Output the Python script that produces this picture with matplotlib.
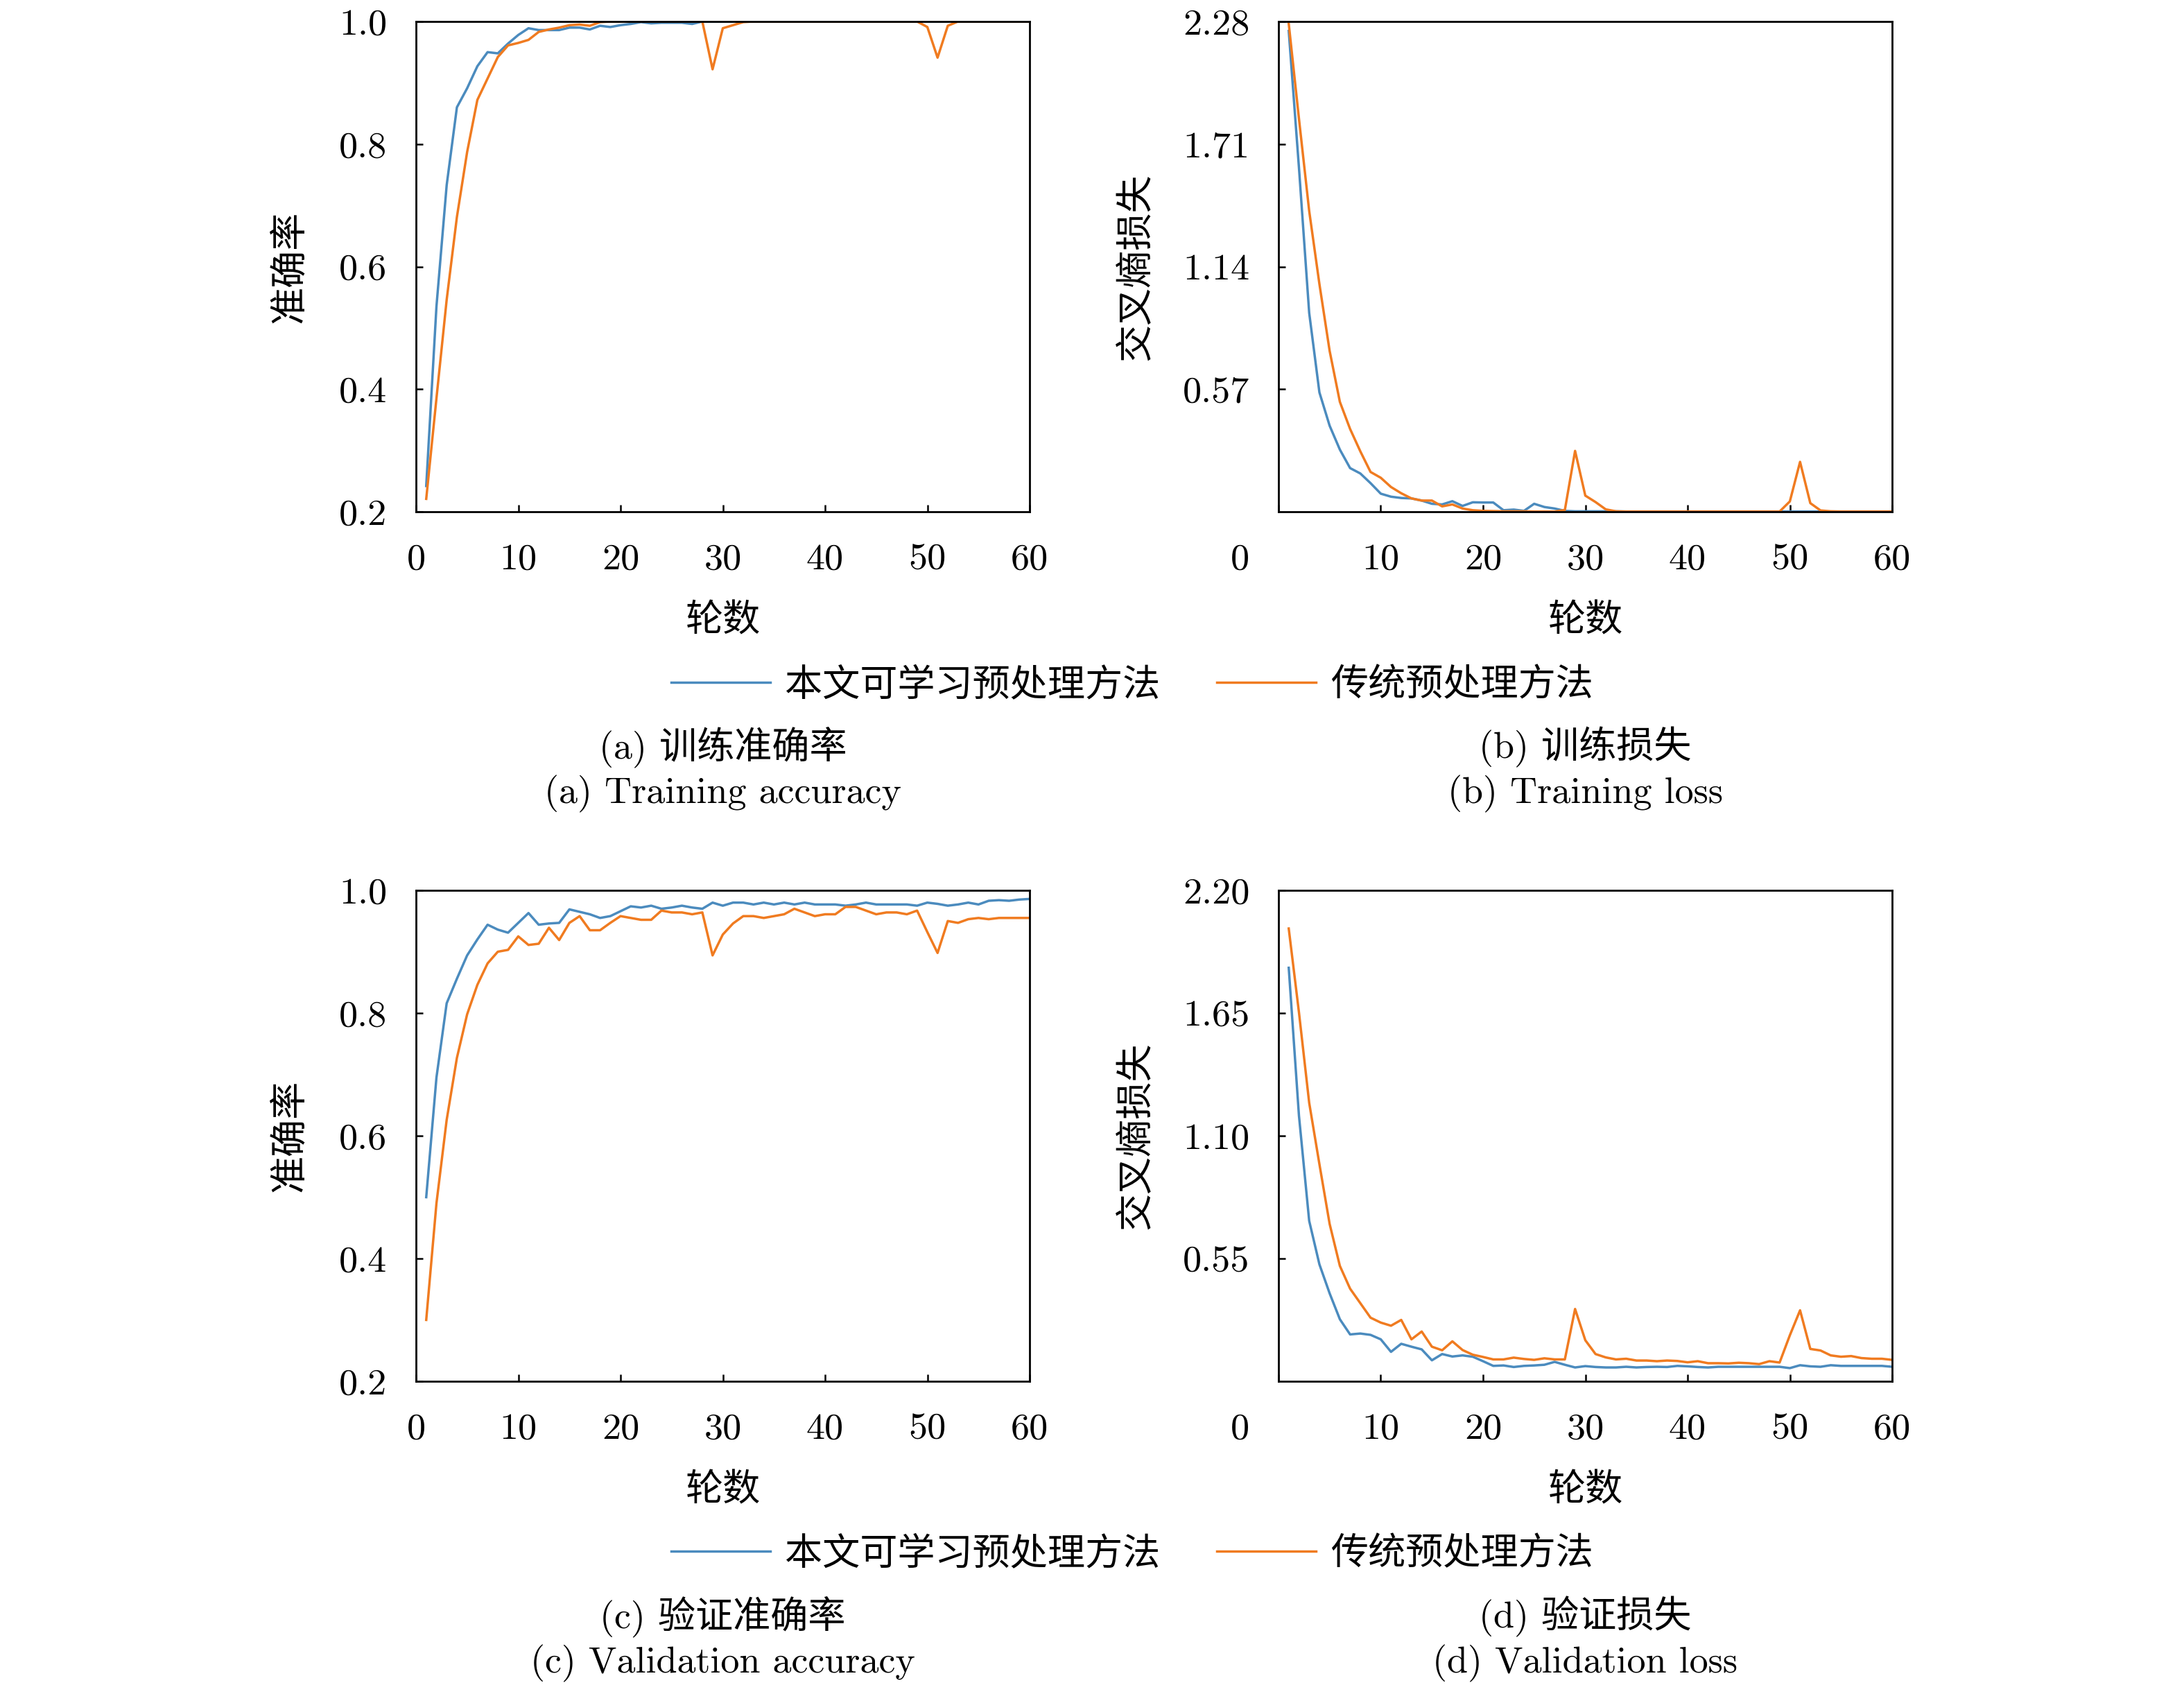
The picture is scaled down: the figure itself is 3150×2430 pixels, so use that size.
import numpy as np
import matplotlib
matplotlib.use('Agg')
import matplotlib.pyplot as plt
from matplotlib.transforms import offset_copy

plt.rcParams['font.family'] = ['cmr10', 'Noto Sans CJK SC']
plt.rcParams['axes.unicode_minus'] = False

# ===== data (epochs 1..60) =====
epochs = np.arange(1, 61)

train_acc_ours = [
    0.242, 0.535, 0.733, 0.860, 0.891, 0.927, 0.950, 0.948, 0.964, 0.978,
    0.989, 0.986, 0.986, 0.986, 0.990, 0.990, 0.987, 0.993, 0.991, 0.994,
    0.996, 0.999, 0.997, 0.998, 0.998, 0.998, 0.996, 1.000, 1.000, 1.000,
    1.000, 1.000, 1.000, 1.000, 1.000, 1.000, 1.000, 1.000, 1.000, 1.000,
    1.000, 1.000, 1.000, 1.000, 1.000, 1.000, 1.000, 1.000, 1.000, 1.000,
    1.000, 1.000, 1.000, 1.000, 1.000, 1.000, 1.000, 1.000, 1.000, 1.000,
]
train_acc_base = [
    0.221, 0.385, 0.546, 0.681, 0.787, 0.872, 0.907, 0.942, 0.961, 0.965,
    0.970, 0.983, 0.987, 0.990, 0.994, 0.995, 0.993, 0.999, 1.000, 1.000,
    1.000, 1.000, 1.000, 1.000, 1.000, 1.000, 1.000, 1.000, 0.922, 0.989,
    0.994, 0.999, 1.000, 1.000, 1.000, 1.000, 1.000, 1.000, 1.000, 1.000,
    1.000, 1.000, 1.000, 1.000, 1.000, 1.000, 1.000, 1.000, 1.000, 0.991,
    0.941, 0.993, 1.000, 1.000, 1.000, 1.000, 1.000, 1.000, 1.000, 1.000,
]
train_loss_ours = [
    2.236, 1.600, 0.925, 0.555, 0.400, 0.289, 0.203, 0.178, 0.133, 0.084,
    0.070, 0.064, 0.062, 0.052, 0.037, 0.034, 0.049, 0.027, 0.044, 0.043,
    0.043, 0.007, 0.010, 0.004, 0.037, 0.022, 0.015, 0.004, 0.002, 0.002,
    0.002, 0.002, 0.002, 0.001, 0.001, 0.001, 0.001, 0.001, 0.001, 0.001,
    0.001, 0.001, 0.001, 0.001, 0.001, 0.001, 0.001, 0.001, 0.001, 0.001,
    0.001, 0.001, 0.001, 0.001, 0.001, 0.001, 0.001, 0.001, 0.001, 0.001,
]
train_loss_base = [
    2.270, 1.828, 1.399, 1.059, 0.748, 0.511, 0.385, 0.281, 0.185, 0.158,
    0.115, 0.086, 0.062, 0.052, 0.052, 0.025, 0.034, 0.015, 0.007, 0.004,
    0.003, 0.002, 0.002, 0.002, 0.001, 0.001, 0.001, 0.008, 0.283, 0.075,
    0.045, 0.011, 0.002, 0.001, 0.001, 0.001, 0.001, 0.001, 0.001, 0.001,
    0.001, 0.001, 0.001, 0.001, 0.001, 0.001, 0.001, 0.001, 0.001, 0.048,
    0.232, 0.040, 0.006, 0.002, 0.001, 0.001, 0.001, 0.001, 0.001, 0.001,
]
val_acc_ours = [
    0.500, 0.695, 0.816, 0.856, 0.894, 0.920, 0.944, 0.936, 0.931, 0.947,
    0.963, 0.944, 0.946, 0.947, 0.969, 0.965, 0.961, 0.955, 0.958, 0.966,
    0.974, 0.972, 0.975, 0.970, 0.972, 0.975, 0.972, 0.970, 0.980, 0.975,
    0.980, 0.980, 0.977, 0.980, 0.977, 0.980, 0.977, 0.980, 0.977, 0.977,
    0.977, 0.975, 0.977, 0.980, 0.977, 0.977, 0.977, 0.977, 0.975, 0.980,
    0.978, 0.975, 0.977, 0.980, 0.977, 0.983, 0.984, 0.983, 0.985, 0.986,
]
val_acc_base = [
    0.300, 0.490, 0.626, 0.727, 0.798, 0.846, 0.881, 0.900, 0.903, 0.925,
    0.911, 0.913, 0.939, 0.919, 0.947, 0.958, 0.935, 0.935, 0.947, 0.958,
    0.955, 0.952, 0.952, 0.967, 0.964, 0.964, 0.961, 0.964, 0.894, 0.928,
    0.946, 0.958, 0.958, 0.955, 0.958, 0.961, 0.970, 0.964, 0.958, 0.961,
    0.961, 0.973, 0.973, 0.967, 0.961, 0.964, 0.964, 0.961, 0.967, 0.932,
    0.898, 0.950, 0.947, 0.953, 0.955, 0.953, 0.955, 0.955, 0.955, 0.955,
]
val_loss_ours = [
    1.853, 1.190, 0.719, 0.524, 0.394, 0.278, 0.210, 0.214, 0.208, 0.188,
    0.132, 0.168, 0.155, 0.143, 0.094, 0.122, 0.111, 0.116, 0.110, 0.090,
    0.069, 0.071, 0.064, 0.069, 0.071, 0.074, 0.087, 0.074, 0.062, 0.068,
    0.064, 0.062, 0.062, 0.065, 0.062, 0.064, 0.065, 0.064, 0.069, 0.067,
    0.064, 0.062, 0.065, 0.065, 0.065, 0.065, 0.065, 0.065, 0.065, 0.059,
    0.072, 0.067, 0.065, 0.072, 0.069, 0.069, 0.069, 0.069, 0.069, 0.065,
]
val_loss_base = [
    2.029, 1.653, 1.248, 0.973, 0.705, 0.517, 0.415, 0.350, 0.285, 0.263,
    0.249, 0.275, 0.188, 0.223, 0.155, 0.139, 0.179, 0.140, 0.119, 0.109,
    0.098, 0.098, 0.106, 0.100, 0.096, 0.103, 0.098, 0.098, 0.324, 0.184,
    0.122, 0.107, 0.098, 0.101, 0.093, 0.093, 0.090, 0.093, 0.091, 0.085,
    0.090, 0.081, 0.081, 0.080, 0.083, 0.081, 0.077, 0.090, 0.084, 0.206,
    0.318, 0.145, 0.138, 0.116, 0.110, 0.113, 0.104, 0.101, 0.101, 0.096,
]

acc_ticks = [0.2, 0.4, 0.6, 0.8, 1.0]
acc_ticklabels = ['0.2', '0.4', '0.6', '0.8', '1.0']
train_loss_ticks = [0.57, 1.14, 1.71, 2.28]
val_loss_ticks = [0.55, 1.10, 1.65, 2.20]
x_ticks = [0, 10, 20, 30, 40, 50, 60]

label_ours = '本文可学习预处理方法'
label_base = '传统预处理方法'
captions = [
    ('(a) 训练准确率', '(a) Training accuracy'),
    ('(b) 训练损失', '(b) Training loss'),
    ('(c) 验证准确率', '(c) Validation accuracy'),
    ('(d) 验证损失', '(d) Validation loss'),
]

BLUE = '#4b8bbe'
ORANGE = '#f07b20'
FS = 39
LW = 2.5

W, H = 3150, 2430
fig = plt.figure(figsize=(W / 100, H / 100), dpi=100)


def add_axes_px(x0, y0, x1, y1):
    return fig.add_axes([x0 / W, 1 - y1 / H, (x1 - x0) / W, (y1 - y0) / H])


def style(ax, loss):
    for s in ax.spines.values():
        s.set_linewidth(2.0)
    ax.tick_params(direction='in', length=7.5, width=1.8, top=False, right=False,
                   labelsize=FS)
    ax.tick_params(axis='x', pad=33)
    ax.tick_params(axis='y', pad=30)
    ax.set_xlim(0, 60)
    ax.set_xticks(x_ticks)
    if loss:
        # the 0 of the loss panels sits further left, drawn as a separate text
        ax.set_xticklabels([''] + [str(t) for t in x_ticks[1:]])
        tr = offset_copy(ax.transAxes, fig=fig, x=-30, y=-33, units='points')
        ax.text(0, 0, '0', transform=tr, ha='right', va='top', fontsize=FS)
    else:
        ax.set_xticklabels([str(t) for t in x_ticks])


boxes = [(600, 31, 1485, 738), (1844, 31, 2729, 738),
         (600, 1284, 1485, 1992), (1844, 1284, 2729, 1992)]
series = [(train_acc_ours, train_acc_base), (train_loss_ours, train_loss_base),
          (val_acc_ours, val_acc_base), (val_loss_ours, val_loss_base)]

axes = []
for i, (box, (ours, base)) in enumerate(zip(boxes, series)):
    ax = add_axes_px(*box)
    ax.plot(epochs, ours, color=BLUE, lw=LW, label=label_ours)
    ax.plot(epochs, base, color=ORANGE, lw=LW, label=label_base)
    loss = i % 2 == 1
    style(ax, loss)
    if i == 0 or i == 2:
        ax.set_ylim(0.2, 1.0)
        ax.set_yticks(acc_ticks)
        ax.set_yticklabels(acc_ticklabels)
    elif i == 1:
        ax.set_ylim(0, 2.28)
        ax.set_yticks(train_loss_ticks)
        ax.set_yticklabels([f'{t:.2f}' for t in train_loss_ticks])
    else:
        ax.set_ylim(0, 2.20)
        ax.set_yticks(val_loss_ticks)
        ax.set_yticklabels([f'{t:.2f}' for t in val_loss_ticks])
    axes.append(ax)

    x0, y0, x1, y1 = box
    xc = (x0 + x1) / 2
    yc = (y0 + y1) / 2
    # axis labels
    fig.text(xc / W, 1 - (y1 + 157) / H, '轮数', ha='center', va='center', fontsize=FS)
    ylab_x = 418 if not loss else 1638
    fig.text(ylab_x / W, 1 - yc / H, '交叉熵损失' if loss else '准确率',
             rotation=90, ha='center', va='center', fontsize=FS)
    # sub-captions
    zh, en = captions[i]
    fig.text(xc / W, 1 - (y1 + 339) / H, zh, ha='center', va='center', fontsize=FS)
    fig.text(xc / W, 1 - (y1 + 407) / H, en, ha='center', va='center', fontsize=FS)

# one legend per row, centred between the two panels
for row, ax in enumerate([axes[0], axes[2]]):
    yc = 988 if row == 0 else 2241
    h, l = ax.get_legend_handles_labels()
    fig.legend(h, l, loc='center', bbox_to_anchor=(1633 / W, 1 - yc / H), ncol=2,
               frameon=False, fontsize=FS, handlelength=2.64, handletextpad=0.4,
               columnspacing=1.5, borderpad=0, borderaxespad=0)

fig.savefig('out.png', dpi=100)
